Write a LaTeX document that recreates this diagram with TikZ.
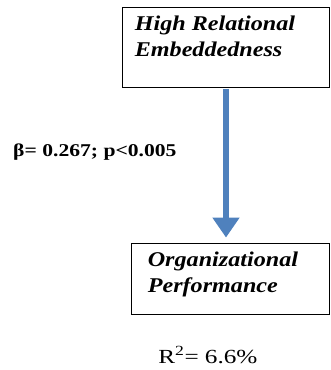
\documentclass[tikz,border=0pt]{standalone}
\usepackage{fontspec}
\setmainfont{Liberation Serif}
\usetikzlibrary{arrows.meta,positioning}
\definecolor{figblue}{RGB}{79,129,189}
\tikzset{
  fgbox/.style  ={draw=black,line width=0.9pt,inner sep=0pt},
  boxlab/.style ={inner sep=0pt,align=left,transform shape,xscale=1.15,font=\fontsize{21}{26}\selectfont\bfseries\itshape},
  fgarr/.style  ={figblue,line width=6pt,-{Triangle[length=20pt,width=26pt]}},
  statlab/.style={inner sep=0pt,transform shape,xscale=1.2,font=\fontsize{18}{20}\selectfont\bfseries},
  rlab/.style   ={inner sep=0pt,transform shape,xscale=1.26,font=\fontsize{20}{22}\selectfont},
}
\begin{document}
\begin{tikzpicture}[x=1pt,y=-1pt]
  \useasboundingbox (0,0) rectangle (330,370);
  % boxes
  \node[fgbox,minimum width=207pt,minimum height=80pt] (hre) at (225.5,47) {};
  \node[fgbox,minimum width=198pt,minimum height=71pt] (orp) at (230,278.5) {};
  \node[boxlab,anchor=north west] (hretxt) at ([xshift=13pt,yshift=-9pt]hre.north west) {High Relational\\Embeddedness};
  \node[boxlab,anchor=north west] (orptxt) at ([xshift=17pt,yshift=-9pt]orp.north west) {Organizational\\Performance};
  % path
  \draw[fgarr] ([xshift=0.5pt,yshift=-1.5pt]hre.south) -- ([xshift=-4pt,yshift=5pt]orp.north);
  \node[statlab,anchor=base west] (beta) at (13,156) {β= 0.267; p<0.005};
  \node[rlab,anchor=base west] (rsq) at (158,363) {R\textsuperscript{2}= 6.6\%};
\end{tikzpicture}
\end{document}
